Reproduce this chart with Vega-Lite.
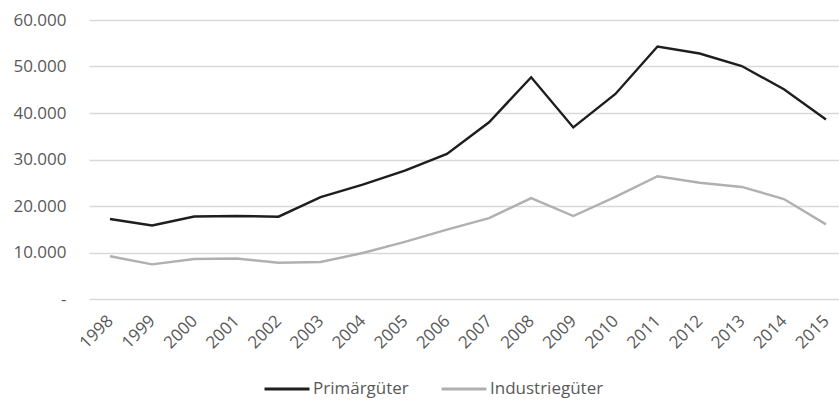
{
  "$schema": "https://vega.github.io/schema/vega-lite/v6.json",
  "autosize": "none",
  "width": 750,
  "height": 279,
  "padding": {"left": 89, "top": 20, "right": 0, "bottom": 102},
  "background": "white",
  "config": {
    "view": {"stroke": null},
    "font": "Open Sans",
    "axis": {"labelFont": "Open Sans", "labelFontSize": 17, "labelColor": "#595959"},
    "legend": {"labelFont": "Open Sans", "labelFontSize": 17, "labelColor": "#595959"}
  },
  "data": {
    "values": [
      {"Jahr": "1998", "Reihe": "Primärgüter", "Wert": 17200},
      {"Jahr": "1999", "Reihe": "Primärgüter", "Wert": 15800},
      {"Jahr": "2000", "Reihe": "Primärgüter", "Wert": 17750},
      {"Jahr": "2001", "Reihe": "Primärgüter", "Wert": 17850},
      {"Jahr": "2002", "Reihe": "Primärgüter", "Wert": 17700},
      {"Jahr": "2003", "Reihe": "Primärgüter", "Wert": 21900},
      {"Jahr": "2004", "Reihe": "Primärgüter", "Wert": 24600},
      {"Jahr": "2005", "Reihe": "Primärgüter", "Wert": 27600},
      {"Jahr": "2006", "Reihe": "Primärgüter", "Wert": 31200},
      {"Jahr": "2007", "Reihe": "Primärgüter", "Wert": 38000},
      {"Jahr": "2008", "Reihe": "Primärgüter", "Wert": 47700},
      {"Jahr": "2009", "Reihe": "Primärgüter", "Wert": 36900},
      {"Jahr": "2010", "Reihe": "Primärgüter", "Wert": 44100},
      {"Jahr": "2011", "Reihe": "Primärgüter", "Wert": 54300},
      {"Jahr": "2012", "Reihe": "Primärgüter", "Wert": 52800},
      {"Jahr": "2013", "Reihe": "Primärgüter", "Wert": 50100},
      {"Jahr": "2014", "Reihe": "Primärgüter", "Wert": 45100},
      {"Jahr": "2015", "Reihe": "Primärgüter", "Wert": 38600},
      {"Jahr": "1998", "Reihe": "Industriegüter", "Wert": 9200},
      {"Jahr": "1999", "Reihe": "Industriegüter", "Wert": 7450},
      {"Jahr": "2000", "Reihe": "Industriegüter", "Wert": 8600},
      {"Jahr": "2001", "Reihe": "Industriegüter", "Wert": 8700},
      {"Jahr": "2002", "Reihe": "Industriegüter", "Wert": 7800},
      {"Jahr": "2003", "Reihe": "Industriegüter", "Wert": 7950},
      {"Jahr": "2004", "Reihe": "Industriegüter", "Wert": 9900},
      {"Jahr": "2005", "Reihe": "Industriegüter", "Wert": 12300},
      {"Jahr": "2006", "Reihe": "Industriegüter", "Wert": 14900},
      {"Jahr": "2007", "Reihe": "Industriegüter", "Wert": 17400},
      {"Jahr": "2008", "Reihe": "Industriegüter", "Wert": 21700},
      {"Jahr": "2009", "Reihe": "Industriegüter", "Wert": 17850},
      {"Jahr": "2010", "Reihe": "Industriegüter", "Wert": 21950},
      {"Jahr": "2011", "Reihe": "Industriegüter", "Wert": 26400},
      {"Jahr": "2012", "Reihe": "Industriegüter", "Wert": 25000},
      {"Jahr": "2013", "Reihe": "Industriegüter", "Wert": 24100},
      {"Jahr": "2014", "Reihe": "Industriegüter", "Wert": 21500},
      {"Jahr": "2015", "Reihe": "Industriegüter", "Wert": 16050}
    ]
  },
  "mark": {"type": "line", "strokeWidth": 2.4},
  "encoding": {
    "x": {
      "field": "Jahr",
      "type": "ordinal",
      "scale": {"type": "point", "padding": 0.4036, "align": 0.6176},
      "axis": {
        "title": null,
        "domain": false,
        "ticks": false,
        "grid": false,
        "labelAngle": -45,
        "labelAlign": "right",
        "labelBaseline": "middle",
        "labelPadding": 19
      }
    },
    "y": {
      "field": "Wert",
      "type": "quantitative",
      "scale": {"domain": [0, 60000], "nice": false},
      "axis": {
        "title": null,
        "domain": false,
        "ticks": false,
        "values": [0, 10000, 20000, 30000, 40000, 50000, 60000],
        "gridColor": "#d9d9d9",
        "gridWidth": 1.3,
        "labelPadding": 23,
        "labelExpr": "datum.value === 0 ? '-  ' : replace(format(datum.value, ','), ',', '.')"
      }
    },
    "color": {
      "field": "Reihe",
      "type": "nominal",
      "sort": ["Primärgüter", "Industriegüter"],
      "scale": {"domain": ["Primärgüter", "Industriegüter"], "range": ["#1e1e1e", "#b0b0b0"]},
      "legend": {
        "title": null,
        "orient": "none",
        "direction": "horizontal",
        "legendX": 174,
        "legendY": 345,
        "symbolType": "stroke",
        "symbolSize": 2025,
        "symbolStrokeWidth": 3,
        "labelOffset": 2,
        "columnPadding": 26
      }
    }
  }
}
